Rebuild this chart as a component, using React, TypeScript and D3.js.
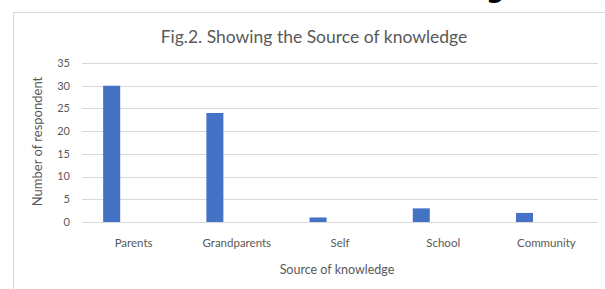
import React from 'react';
import * as d3 from 'd3';

const categories = ['Parents', 'Grandparents', 'Self', 'School', 'Community'];
const respondents = [30, 24, 1, 3, 2];
const yTicks = [0, 5, 10, 15, 20, 25, 30, 35];

const width = 605;
const height = 289;
const margin = { top: 63, right: 7, bottom: 67, left: 82 };
const chartWidth = width - margin.left - margin.right;
const chartHeight = height - margin.top - margin.bottom;

const font = 'Lato, "Open Sans", sans-serif';
const textColor = '#595959';

const App = () => {
  const x = d3.scaleBand<string>()
    .domain(categories)
    .range([0, chartWidth])
    .padding(0);

  const y = d3.scaleLinear()
    .domain([0, 35])
    .range([chartHeight, 0]);

  const bw = x.bandwidth();

  return (
    <svg
      width={width}
      height={height}
      viewBox={`0,0,${width},${height}`}
      style={{ position: 'fixed', top: 0, left: 0, background: '#fff' }}
    >
      {/* cropped heading descender at the very top */}
      <text x={486} y={-3} fontFamily='"DejaVu Sans", sans-serif' fontWeight='bold' fontSize={26} fill='#000'>g</text>

      {/* chart frame */}
      <rect x={13.5} y={12.5} width={620} height={300} fill='none' stroke='#d9d9d9' />

      <text x={314} y={43} textAnchor='middle' fontFamily={font} fontSize={17.5} fill={textColor}>
        Fig.2. Showing the Source of knowledge
      </text>

      <g transform={`translate(${margin.left}, ${margin.top})`}>
        { yTicks.map(t =>
            <g key={`tick-${t}`}>
              <line x1={0} x2={chartWidth} y1={Math.round(y(t)) + 0.5} y2={Math.round(y(t)) + 0.5} stroke='#d9d9d9' strokeWidth={1} />
              <text x={-12} y={y(t)} dy='0.35em' textAnchor='end' fontFamily={font} fontSize={11} fill={textColor}>{t}</text>
            </g>
          )
        }
        { categories.map((c, i) =>
            <g key={`bar-${c}`}>
              <rect
                x={(x(c) as number) + bw * 0.205}
                y={y(respondents[i])}
                width={bw * 0.165}
                height={chartHeight - y(respondents[i])}
                fill='#4472c4'
              />
              <text x={(x(c) as number) + bw / 2} y={chartHeight + 25} textAnchor='middle' fontFamily={font} fontSize={11.5} fill={textColor}>{c}</text>
            </g>
          )
        }
        <text x={chartWidth / 2 - 3} y={chartHeight + 52} textAnchor='middle' fontFamily={font} fontSize={12.5} fill={textColor}>
          Source of knowledge
        </text>
        <text
          transform={`translate(${-40}, ${chartHeight / 2 - 1}) rotate(-90)`}
          textAnchor='middle'
          fontFamily={font}
          fontSize={13}
          fill={textColor}
        >
          Number of respondent
        </text>
      </g>
    </svg>
  );
};

export default App;
